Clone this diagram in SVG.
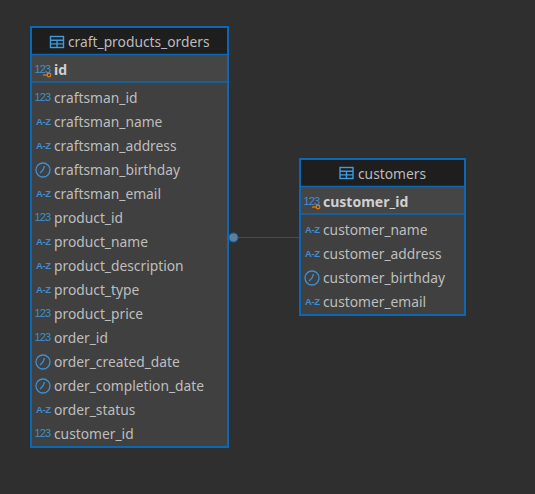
<svg xmlns="http://www.w3.org/2000/svg" width="535" height="494" viewBox="0 0 535 494">
<style>
text{font-family:"Noto Sans","Open Sans","Liberation Sans",sans-serif;font-size:13.8px;fill:#bebebe}
.h{fill:#bcbcbc}
.pk{font-weight:700;font-size:14px;fill:#d0d0d0}
.box{fill:#404040;stroke:#0b68b4;stroke-width:2}
.head{fill:#1e1e1e}
.sep{stroke:#0b68b4;stroke-width:1.5;fill:none}
.pkrow{fill:#454545}
.ico{font-size:11px;letter-spacing:-0.9px;fill:#3f8fd0;font-family:"Liberation Sans",sans-serif}
.az{font-size:9.5px;letter-spacing:-0.4px;font-weight:700;fill:#3f8fd0;font-family:"Liberation Sans",sans-serif}
.ic{fill:none;stroke:#3f8fd0;stroke-width:1.3}
.key{fill:none;stroke:#e8800f;stroke-width:1.2}
</style>
<defs>
<g id="tbl"><rect x="0" y="0" width="13" height="11" fill="none" stroke="#3f9be0" stroke-width="1.4"/><path d="M0 3.700H13M0 7.400H13M6.500 3.700V11" stroke="#3f9be0" stroke-width="1.400" fill="none"/></g>
<g id="clock"><circle cx="0" cy="0" r="7" class="ic"/><path d="M1.500-4L0 0L-3 3" class="ic"/></g>
<g id="keyi"><circle cx="0" cy="0" r="1.800" class="key"/><path d="M-1.800 0H-6" class="key"/></g>
</defs>
<rect width="535" height="494" fill="#2f2f2f"/>
<g id="connectors">
<path d="M233.500 237.500H300" stroke="#0b5a9c" stroke-width="1" fill="none"/>
<circle cx="233.500" cy="237.500" r="4.500" fill="#5d7f9c" stroke="#0b68b4" stroke-width="1"/>
</g>
<g id="craft_products_orders">
<rect class="box" x="31" y="27" width="197" height="420"/>
<rect class="head" x="32" y="28" width="195" height="26"/>
<rect class="pkrow" x="32" y="55" width="195" height="27"/>
<path class="sep" d="M31 54.500H228M31 82H228"/>
<use href="#tbl" x="50.500" y="36.500"/>
<text class="h" x="68" y="47">craft_products_orders</text>
<text class="ico" x="34.500" y="73">123</text><use href="#keyi" x="49" y="75"/>
<text class="pk" x="54" y="75">id</text>
<text class="ico" x="34.500" y="101">123</text><text x="54" y="103">craftsman_id</text>
<text class="az" x="36" y="125">A-Z</text><text x="54" y="127">craftsman_name</text>
<text class="az" x="36" y="149">A-Z</text><text x="54" y="151">craftsman_address</text>
<use href="#clock" x="43" y="170"/><text x="54" y="175">craftsman_birthday</text>
<text class="az" x="36" y="197">A-Z</text><text x="54" y="199">craftsman_email</text>
<text class="ico" x="34.500" y="221">123</text><text x="54" y="223">product_id</text>
<text class="az" x="36" y="245">A-Z</text><text x="54" y="247">product_name</text>
<text class="az" x="36" y="269">A-Z</text><text x="54" y="271">product_description</text>
<text class="az" x="36" y="293">A-Z</text><text x="54" y="295">product_type</text>
<text class="ico" x="34.500" y="317">123</text><text x="54" y="319">product_price</text>
<text class="ico" x="34.500" y="341">123</text><text x="54" y="343">order_id</text>
<use href="#clock" x="43" y="362"/><text x="54" y="367">order_created_date</text>
<use href="#clock" x="43" y="386"/><text x="54" y="391">order_completion_date</text>
<text class="az" x="36" y="413">A-Z</text><text x="54" y="415">order_status</text>
<text class="ico" x="34.500" y="437">123</text><text x="54" y="439">customer_id</text>
</g>
<g id="customers">
<rect class="box" x="300" y="159" width="165" height="156"/>
<rect class="head" x="301" y="160" width="163" height="26"/>
<rect class="pkrow" x="301" y="187" width="163" height="27"/>
<path class="sep" d="M300 186.500H465M300 214H465"/>
<use href="#tbl" x="340" y="167.500"/>
<text class="h" x="358" y="179">customers</text>
<text class="ico" x="303.500" y="205">123</text><use href="#keyi" x="318" y="207"/>
<text class="pk" x="323" y="207">customer_id</text>
<text class="az" x="305" y="233">A-Z</text><text x="323" y="235">customer_name</text>
<text class="az" x="305" y="257">A-Z</text><text x="323" y="259">customer_address</text>
<use href="#clock" x="312" y="278"/><text x="323" y="283">customer_birthday</text>
<text class="az" x="305" y="305">A-Z</text><text x="323" y="307">customer_email</text>
</g>
</svg>
